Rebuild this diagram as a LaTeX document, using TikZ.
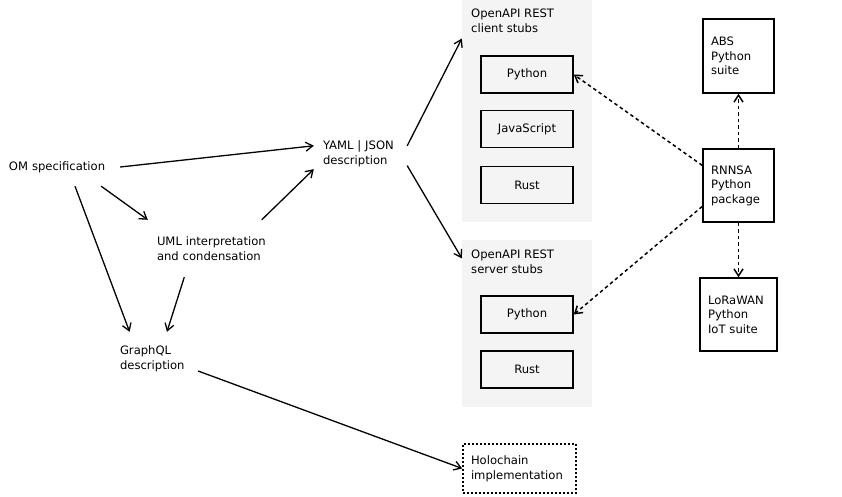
\documentclass[tikz,border=0pt]{standalone}
\usepackage{fontspec}
\setmainfont{DejaVu Sans}
\usetikzlibrary{arrows.meta}
\definecolor{clustergray}{HTML}{F4F4F4}

\begin{document}
\begin{tikzpicture}
[x=1pt,y=-1pt,
  font=\fontsize{11.6}{14.6}\selectfont,
  plaindecorate/.style={shape=rectangle,inner xsep=9pt,inner ysep=0pt,align=left},%
  clusterdecorate/.style={shape=rectangle,fill=clustergray,inner sep=0pt,minimum width=130pt},%
  stubdecorate/.style={shape=rectangle,draw,line width=1.5pt,minimum width=92pt,minimum height=37pt},%
  boxdecorate/.style={shape=rectangle,draw,line width=1.5pt,inner xsep=8pt,inner ysep=0pt,align=left},%
  linedecorate/.style={-{Straight Barb[length=7pt,width=9pt]},line width=1.3pt},%
  dashdecorate/.style={linedecorate,line width=1.5pt,dash pattern=on 3.5pt off 3pt}]
\useasboundingbox (0,0) rectangle (842,496);
%% clusters
\node (client) at (527,111) [clusterdecorate,minimum height=222pt] {};
\node (server) at (527,323.5) [clusterdecorate,minimum height=167pt] {};
\node (clientlabel) at (471,9) [anchor=north west,inner sep=0pt,align=left] {OpenAPI REST\\client stubs};
\node (serverlabel) at (471,250) [anchor=north west,inner sep=0pt,align=left] {OpenAPI REST\\server stubs};
%% plain nodes
\foreach \nodename/\x/\y/\w/\h/\txt in {
  om/60/167/102/38/{OM specification},
  yaml/360.5/154/75/40/{YAML | JSON\\description},
  uml/212/248.5/110/57/{UML interpretation\\and condensation},
  gql/154.5/358.5/69/53/{GraphQL\\description}}
{
  \node (\nodename) at (\x,\y) [plaindecorate,text width=\w pt,minimum height=\h pt] {\txt};
}
%% stubs
\foreach \nodename/\y/\txt in {
  cpy/74.5/Python, cjs/129/JavaScript, crs/185/Rust,
  spy/314.5/Python, srs/369.5/Rust}
{
  \node (\nodename) at (527,\y) [stubdecorate] {\txt};
}
%% boxed nodes
\foreach \nodename/\x/\y/\w/\h/\txt in {
  abs/738.5/56/55/74/{ABS\\Python\\suite},
  rnnsa/738.5/185.5/55/73/{RNNSA\\Python\\package},
  lora/738.5/314.5/61/73/{LoRaWAN\\Python\\IoT suite}}
{
  \node (\nodename) at (\x,\y) [boxdecorate,text width=\w pt,minimum height=\h pt] {\txt};
}
\node (holo) at (519.5,468.5) [boxdecorate,dash pattern=on 2pt off 2pt,text width=97pt,minimum height=49pt] {Holochain\\implementation};
%% edges
\path
\foreach \startnode/\endnode in {
  om.east/yaml.170, om.-25/uml.north west, om.-52/gql.133,
  uml.30/yaml.-162, uml.-134/gql.65,
  yaml.10/client.132, yaml.-14/server.135, gql.-16/holo.west}
{
  (\startnode) edge[linedecorate] (\endnode)
};
\path
\foreach \startnode/\endnode in {
  rnnsa.151/cpy.east, rnnsa.210/spy.east,
  rnnsa.north/abs.south, rnnsa.south/lora.north}
{
  (\startnode) edge[dashdecorate] (\endnode)
};
\end{tikzpicture}
\end{document}
